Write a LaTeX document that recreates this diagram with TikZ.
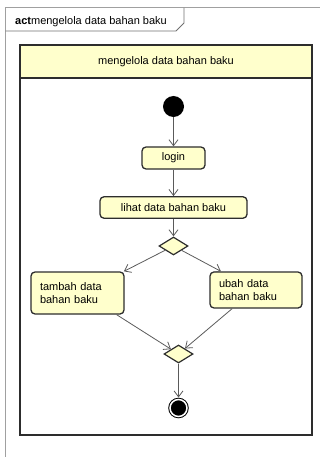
\documentclass[tikz,border=0pt]{standalone}
\usepackage{fontspec}
\setmainfont{Liberation Sans}
\usetikzlibrary{arrows.meta,shapes.geometric}
\definecolor{actfill}{RGB}{255,255,204}
\definecolor{actline}{RGB}{45,45,45}
\definecolor{flowline}{RGB}{90,90,90}
\definecolor{framegray}{RGB}{160,160,160}
\begin{document}
\begin{tikzpicture}[x=1pt, y=-1pt,
        font=\fontsize{11}{13.5}\selectfont,
        action/.style={rectangle, rounded corners=4pt, draw=actline, line width=1.3pt, fill=actfill, inner sep=0pt},
        decision/.style={diamond, draw=actline, line width=1.2pt, fill=actfill, inner sep=0pt, minimum width=29pt, minimum height=18pt},
        startdot/.style={circle, fill=black, minimum size=21pt, inner sep=0pt},
        enddot/.style={circle, draw=black, double=white, double distance=1.5pt, line width=1pt, fill=black, minimum size=17pt, inner sep=0pt, outer sep=2pt},
        flowarrow/.style={draw=flowline, line width=0.8pt, -{Straight Barb[length=6pt,width=9pt]}}]
    \useasboundingbox (0, 0) rectangle (320, 457);
    % frame
    \draw[framegray, line width=1pt] (5.5, 457) -- (5.5, 8) -- (320, 8);
        \draw[framegray!70!black, line width=0.8pt] (5.5, 31) -- (176, 31) -- (184, 23) -- (184, 8);
        \node[anchor=west, inner sep=0pt] (tab) at (15, 21.5) {\textbf{act}mengelola data bahan baku};
    % lane
    \draw[actline, line width=1.6pt] (20, 45) rectangle (312, 435);
        \node[draw=actline, line width=1.6pt, fill=actfill, minimum width=292pt, minimum height=33pt, inner sep=0pt] (lane) at (166, 61.5) {mengelola data bahan baku};
    % nodes
    \node[startdot] (start) at (173.5, 106.5) {};
    \node[action, minimum width=63pt, minimum height=22pt] (login) at (173.5, 158) {login};
    \node[action, minimum width=147pt, minimum height=21.5pt] (lihat) at (173.5, 207.5) {lihat data bahan baku};
    \node[decision] (pilih) at (173.5, 246) {};
        \node[action, text width=75pt, inner xsep=9pt, minimum height=42pt, align=left] (tambah) at (77.5, 293) {tambah data\\bahan baku};
        \node[action, text width=74pt, inner xsep=9pt, minimum height=36pt, align=left] (ubah) at (256, 290) {ubah data\\bahan baku};
    \node[decision] (gabung) at (178.5, 354) {};
    \node[enddot] (selesai) at (178.5, 408) {};
    % flows
    \draw[flowarrow] (start) -- (login);
    \draw[flowarrow] (login) -- (lihat);
    \draw[flowarrow] (lihat) -- (pilih);
        \draw[flowarrow] (pilih) -- (tambah.25);
        \draw[flowarrow] (pilih) -- (ubah.152);
        \draw[flowarrow] (tambah.-29) -- (gabung);
        \draw[flowarrow] (ubah.218) -- (gabung);
    \draw[flowarrow] (gabung) -- (selesai);
\end{tikzpicture}
\end{document}
